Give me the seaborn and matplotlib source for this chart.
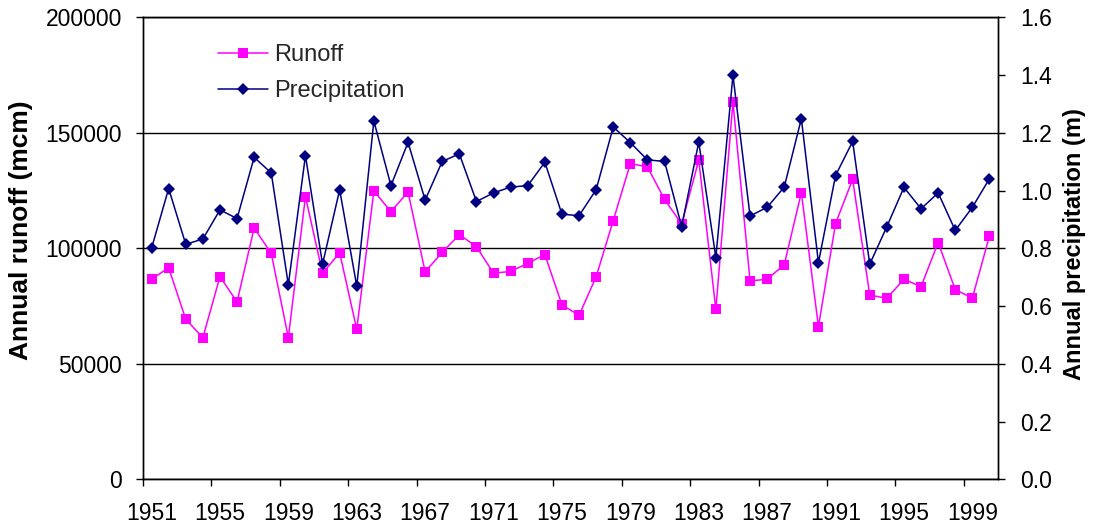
import matplotlib
matplotlib.use("Agg")
import numpy as np
import pandas as pd
import matplotlib.pyplot as plt
from matplotlib.lines import Line2D
from matplotlib.ticker import FormatStrFormatter
import seaborn as sns

years = list(range(1951, 2001))
runoff = [86600, 91600, 69300, 61300, 87700, 76800, 108800, 97800, 61300, 122400,
          89200, 98100, 64900, 124800, 115900, 124400, 89800, 98300, 105900, 100700,
          89200, 90000, 93500, 97300, 75500, 71000, 87700, 112000, 136700, 135200,
          121200, 110500, 138200, 73600, 163300, 85900, 86600, 92900, 124100, 66100,
          110700, 129900, 79700, 78400, 86600, 83400, 102500, 82100, 78500, 105300]
precip = [0.800, 1.007, 0.814, 0.832, 0.933, 0.903, 1.115, 1.061, 0.674, 1.121,
          0.745, 1.003, 0.669, 1.241, 1.017, 1.167, 0.967, 1.101, 1.127, 0.962,
          0.992, 1.012, 1.017, 1.098, 0.918, 0.913, 1.003, 1.220, 1.166, 1.106,
          1.101, 0.875, 1.168, 0.768, 1.399, 0.912, 0.942, 1.012, 1.249, 0.750,
          1.052, 1.170, 0.745, 0.875, 1.011, 0.937, 0.992, 0.862, 0.942, 1.041]
left_ticks = [0, 50000, 100000, 150000, 200000]
right_ticks = [0.0, 0.2, 0.4, 0.6, 0.8, 1.0, 1.2, 1.4, 1.6]
label_years = years[::4]

RUN_C = "#FF00FF"
PRE_C = "#000080"

sns.set_theme(style="white")
plt.rcParams["font.family"] = ["Liberation Sans", "DejaVu Sans"]

df = pd.DataFrame({"idx": np.arange(len(years)), "Runoff": runoff, "Precipitation": precip})

fig = plt.figure(figsize=(10.94, 5.31), dpi=100)
W, H = 1094, 531
x0, x1, ytop, ybot = 143, 998, 17.3, 479.3
ax = fig.add_axes([x0 / W, 1 - ybot / H, (x1 - x0) / W, (ybot - ytop) / H])

sns.lineplot(data=df, x="idx", y="Runoff", ax=ax, color=RUN_C, marker="s",
             markersize=7.8, markeredgewidth=0, linewidth=1.1, legend=False)
ax2 = ax.twinx()
sns.lineplot(data=df, x="idx", y="Precipitation", ax=ax2, color=PRE_C, marker="D",
             markersize=6.0, markeredgewidth=0, linewidth=1.1, legend=False)

ax.set_xlim(-0.5, len(years) - 0.5)
ax.set_ylim(0, 200000)
ax2.set_ylim(0, 1.6)

ax.set_yticks(left_ticks)
ax.set_yticklabels([str(v) for v in left_ticks])
ax2.set_yticks(right_ticks)
ax2.yaxis.set_major_formatter(FormatStrFormatter("%.1f"))

ax.yaxis.grid(True, color="black", linewidth=1)
ax.xaxis.grid(False)
ax2.grid(False)
ax.set_axisbelow(True)

# x ticks: marks at category boundaries, labels at category centres
ax.set_xticks(np.arange(-0.5, len(years) - 1, 4))
ax.set_xticks(np.arange(0, len(years), 4), minor=True)
ax.set_xticklabels(label_years, minor=True)
ax.tick_params(axis="x", which="major", bottom=True, length=5, width=1, color="black",
               labelbottom=False, direction="out")
ax.tick_params(axis="x", which="minor", bottom=True, length=0, labelsize=16.5, pad=16.5,
               labelcolor="black")
ax.tick_params(axis="y", left=True, length=5, width=1, color="black", labelsize=16.5,
               pad=10, labelcolor="black", direction="out")
ax2.tick_params(axis="y", right=True, length=5, width=1, color="black", labelsize=16.5,
                pad=11, labelcolor="black", direction="out")

for a in (ax, ax2):
    for s in a.spines.values():
        s.set_color("black")
        s.set_linewidth(1)

ax.set_xlabel("")
ax.set_ylabel("Annual runoff (mcm)", fontsize=19, fontweight="bold", color="black")
ax2.set_ylabel("Annual precipitation (m)", fontsize=17, fontweight="bold", color="black")
ax.yaxis.set_label_coords(-0.1287, 0.540)
ax2.yaxis.set_label_coords(1.076, 0.509)

handles = [
    Line2D([], [], color=RUN_C, marker="s", markersize=7.8, markeredgewidth=0, linewidth=1.1),
    Line2D([], [], color=PRE_C, marker="D", markersize=6.0, markeredgewidth=0, linewidth=1.1),
]
ax2.legend(handles, ["Runoff", "Precipitation"], loc="upper left",
           bbox_to_anchor=(0.0877, 0.942), frameon=False, fontsize=17,
           handlelength=2.1, handletextpad=0.28, borderpad=0, borderaxespad=0,
           labelspacing=0.6)

fig.savefig("out.png", dpi=100)
